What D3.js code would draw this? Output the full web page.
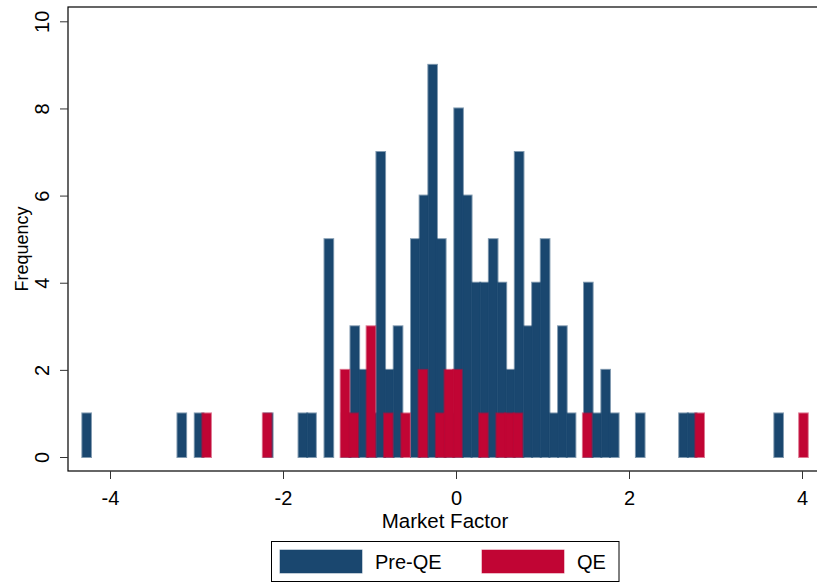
<!DOCTYPE html>
<html>
<head>
<meta charset="utf-8">
<script src="https://cdn.jsdelivr.net/npm/d3@7"></script>
<style>
  body { margin: 0; background: #fff; }
  svg { display: block; font-family: "Liberation Sans", Arial, sans-serif; }
</style>
</head>
<body>
<svg width="817" height="583"></svg>
<script>
(function() {
  'use strict';

// bin setup (both series use width 0.1)
var binWidth = 0.1;
var preStart = -4.32;
var qeStart = -2.933;

// Pre-QE counts, one per bin from preStart
var preCounts = [
  1, 0, 0, 0, 0, 0, 0, 0, 0, 0,
  0, 1, 0, 1, 0, 0, 0, 0, 0, 0,
  0, 1, 0, 0, 0, 1, 1, 0, 5, 0,
  1, 3, 2, 1, 7, 2, 3, 0, 5, 6,
  9, 5, 1, 8, 6, 4, 4, 5, 4, 2,
  7, 3, 4, 5, 1, 3, 1, 0, 4, 1,
  2, 1, 0, 0, 1, 0, 0, 0, 0, 1,
  1, 0, 0, 0, 0, 0, 0, 0, 0, 0,
  1
];

// QE counts, one per bin from qeStart
var qeCounts = [
  1, 0, 0, 0, 0, 0, 0, 1, 0, 0,
  0, 0, 0, 0, 0, 0, 2, 1, 0, 3,
  0, 1, 0, 1, 0, 2, 0, 1, 2, 2,
  0, 0, 1, 0, 1, 1, 1, 0, 0, 0,
  0, 0, 0, 0, 1, 0, 0, 0, 0, 0,
  0, 0, 0, 0, 0, 0, 0, 1, 0, 0,
  0, 0, 0, 0, 0, 0, 0, 0, 0, 1
];

var xTicks = [-4, -2, 0, 2, 4];
var yTicks = [0, 2, 4, 6, 8, 10];
var seriesNames = ["Pre-QE", "QE"];
var seriesColors = ["#1a476f", "#c10534"];

var svg = d3.select("svg");

var x = d3.scaleLinear().domain([-4, 4]).range([110, 802]);
var y = d3.scaleLinear().domain([0, 10]).range([457, 21.3]);

// plain hyphen for negatives, like the original
var fmt = function(d) { return String(d); };

// plot region outline (right side runs off the picture)
svg.append("rect")
   .attr("x", 68).attr("y", 7)
   .attr("width", 780).attr("height", 464)
   .attr("fill", "none")
   .attr("stroke", "#000")
   .attr("stroke-width", 1.2);

function toBins(counts, start) {
  return counts.map(function(c, i) {
    return {x0: start + i * binWidth, x1: start + (i + 1) * binWidth, n: c};
  }).filter(function(d) { return d.n > 0; });
}

[[preCounts, preStart], [qeCounts, qeStart]].forEach(function(s, i) {
  svg.append("g")
     .selectAll("rect")
     .data(toBins(s[0], s[1]))
     .enter().append("rect")
     .attr("x", function(d) { return x(d.x0); })
     .attr("width", function(d) { return x(d.x1) - x(d.x0); })
     .attr("y", function(d) { return y(d.n); })
     .attr("height", function(d) { return y(0) - y(d.n); })
     .attr("fill", seriesColors[i])
     .attr("stroke", seriesColors[i])
     .attr("stroke-opacity", 0.55)
     .attr("stroke-width", 2);
});

// y axis
var yAxis = svg.append("g")
   .attr("transform", "translate(68,0)")
   .call(d3.axisLeft(y).tickValues(yTicks).tickSize(8).tickPadding(0).tickFormat(fmt));
yAxis.select(".domain").remove();
yAxis.selectAll(".tick line").attr("stroke", "#333");
yAxis.selectAll(".tick text")
   .attr("x", null).attr("dy", null)
   .attr("transform", "translate(-19,0) rotate(-90)")
   .attr("text-anchor", "middle")
   .attr("fill", "#000")
   .style("font-size", "20px")
   .style("font-family", "Liberation Sans, Arial, sans-serif");

// x axis
var xAxis = svg.append("g")
   .attr("transform", "translate(0,471)")
   .call(d3.axisBottom(x).tickValues(xTicks).tickSize(8).tickPadding(0).tickFormat(fmt));
xAxis.select(".domain").remove();
xAxis.selectAll(".tick line").attr("stroke", "#333");
xAxis.selectAll(".tick text")
   .attr("y", 33.5).attr("dy", null)
   .attr("fill", "#000")
   .style("font-size", "20px")
   .style("font-family", "Liberation Sans, Arial, sans-serif");

// axis titles
svg.append("text")
   .attr("x", 445).attr("y", 527.5)
   .attr("text-anchor", "middle")
   .style("font-size", "20.5px")
   .text("Market Factor");

svg.append("text")
   .attr("transform", "translate(28,249) rotate(-90)")
   .attr("text-anchor", "middle")
   .style("font-size", "18px")
   .text("Frequency");

// legend
var legend = svg.append("g");
legend.append("rect")
   .attr("x", 271.5).attr("y", 541.5)
   .attr("width", 347.5).attr("height", 40)
   .attr("fill", "#fff")
   .attr("stroke", "#000");

var legendX = [280, 482];
seriesNames.forEach(function(name, i) {
  legend.append("rect")
     .attr("x", legendX[i]).attr("y", 550)
     .attr("width", 82).attr("height", 23)
     .attr("fill", seriesColors[i])
     .attr("stroke", seriesColors[i])
     .attr("stroke-opacity", 0.55);
  legend.append("text")
     .attr("x", legendX[i] + 95).attr("y", 569)
     .style("font-size", "20px")
     .text(name);
});

})();
</script>
</body>
</html>
